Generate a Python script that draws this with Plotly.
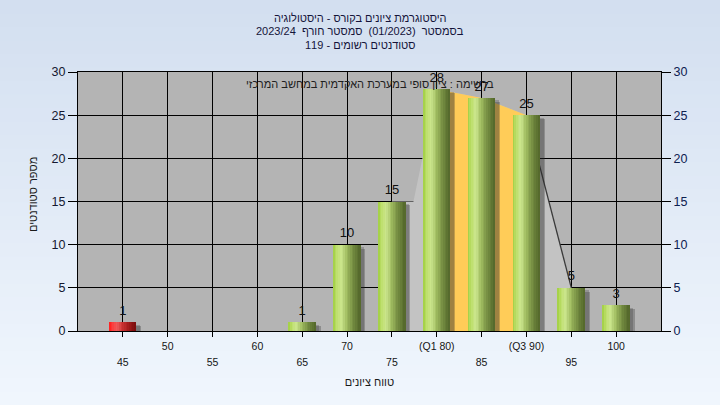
import plotly.graph_objects as go

# ---------------- data ----------------
grades = [45, 50, 55, 60, 65, 70, 75, 80, 85, 90, 95, 100]
counts = [1, 0, 0, 0, 1, 10, 15, 28, 27, 25, 5, 3]
tick_labels = ["45", "50", "55", "60", "65", "70", "75", "(Q1 80)", "85", "(Q3 90)", "95", "100"]
fail_grades = [45]
quartile_grades = [80, 85, 90]          # Q1 .. Q3
envelope_grades = [75, 80, 85, 90, 95]  # distribution envelope drawn behind bars
tail_grades = [90, 95]                  # dark envelope edge

title_lines = [
    "היסטוגרמת ציונים בקורס - היסטולוגיה",
    "בסמסטר  (01/2023)  סמסטר חורף  2023/24",
    "סטודנטים רשומים - 119",
]
note_text = "ברשימה : ציון סופי במערכת האקדמית במחשב המרכזי"
x_title = "טווח ציונים"
y_title = "מספר סטודנטים"

# ---------------- style ----------------
FONT = "Liberation Sans, Arial, DejaVu Sans, sans-serif"
W, H = 720, 405
ML, MR, MT, MB = 78, 59, 72, 74
PH = H - MT - MB
PW = W - ML - MR
BAR_W = 3.0
SHADOW_DX = 0.9
N_SLICES = 16

count_of = dict(zip(grades, counts))


def lerp_stops(stops, t):
    for (t0, c0), (t1, c1) in zip(stops, stops[1:]):
        if t0 <= t <= t1:
            f = (t - t0) / (t1 - t0)
            return "rgb(%d,%d,%d)" % tuple(round(a + (b - a) * f) for a, b in zip(c0, c1))
    return "rgb(%d,%d,%d)" % stops[-1][1]


green_stops = [(0.0, (158, 206, 64)), (0.12, (188, 222, 104)), (0.3, (204, 230, 142)),
               (0.5, (160, 188, 96)), (0.75, (114, 138, 64)), (1.0, (82, 102, 42))]
red_stops = [(0.0, (255, 28, 28)), (0.12, (252, 58, 58)), (0.3, (238, 92, 92)),
             (0.5, (202, 50, 50)), (0.75, (160, 26, 26)), (1.0, (120, 12, 12))]

fig = go.Figure()

# background gradient (paper) + plot area
full_bottom = -MB / PH
full_top = 1 + MT / PH
n_strips = 30
c_top = (211, 223, 240)
c_bot = (240, 246, 253)
for i in range(n_strips):
    f = i / (n_strips - 1)
    col = tuple(round(a + (b - a) * f) for a, b in zip(c_top, c_bot))
    y1 = full_top - (full_top - full_bottom) * i / n_strips
    y0 = full_top - (full_top - full_bottom) * (i + 1) / n_strips
    fig.add_shape(type="rect", xref="paper", yref="paper", x0=-0.2, x1=1.2, y0=y0 - 0.002, y1=y1,
                  fillcolor="rgb(%d,%d,%d)" % col, line_width=0, layer="below")
fig.add_shape(type="rect", xref="paper", yref="paper", x0=0, x1=1, y0=0, y1=1,
              fillcolor="#b4b4b4", line_width=0, layer="below")

# envelope behind bars (main x/y subplot; bars sit on the overlaying x2/y subplot)
env_y = [count_of[g] for g in envelope_grades]
env_x = list(envelope_grades)
left_corner = envelope_grades[0] + BAR_W / 2 + SHADOW_DX   # starts at first bar's shadowed corner
fig.add_trace(go.Scatter(
    x=[env_x[0], env_x[0], left_corner] + env_x[1:] + [env_x[-1]],
    y=[0, env_y[0], env_y[0]] + env_y[1:] + [0], fill="toself", fillcolor="#c3c3c3",
    mode="lines", line=dict(width=0), hoverinfo="skip", showlegend=False))
fig.add_trace(go.Scatter(
    x=quartile_grades, y=[count_of[g] for g in quartile_grades], fill="tozeroy",
    fillcolor="#ffcc58", mode="lines", line=dict(width=0), hoverinfo="skip", showlegend=False))
fig.add_trace(go.Scatter(
    x=tail_grades, y=[count_of[g] for g in tail_grades], mode="lines",
    line=dict(color="#3a3a3a", width=1.3), hoverinfo="skip", showlegend=False))

# shadows
for off, dy, alpha in [(-1.08, 0.28, 0.24), (-0.95, 0.45, 0.28)]:
    fig.add_trace(go.Bar(
        x=grades, y=[(v - dy) if v > 0 else None for v in counts], xaxis="x2",
        offset=off, width=BAR_W, marker=dict(color="rgba(40,40,40,%.2f)" % alpha, line_width=0),
        hoverinfo="skip", showlegend=False))

# bars as vertical gradient slices
sw = BAR_W / N_SLICES
for i in range(N_SLICES):
    t = (i + 0.5) / N_SLICES
    cols = [lerp_stops(red_stops if g in fail_grades else green_stops, t) for g in grades]
    fig.add_trace(go.Bar(
        x=grades, y=counts, xaxis="x2", offset=-BAR_W / 2 + i * sw, width=sw + 0.02,
        marker=dict(color=cols, line_width=0), hoverinfo="skip", showlegend=False))

# value labels
lab_x = [g for g, v in zip(grades, counts) if v > 0]
lab_y = [v for v in counts if v > 0]
fig.add_trace(go.Scatter(
    x=lab_x, y=lab_y, xaxis="x2", mode="markers+text", text=[str(v) for v in lab_y],
    textposition="top center", marker=dict(size=5, color="rgba(0,0,0,0)"),
    textfont=dict(family=FONT, size=13, color="#101010"), cliponaxis=False,
    hoverinfo="skip", showlegend=False))

fig.add_trace(go.Scatter(x=[grades[0]], y=[None], yaxis="y2", showlegend=False, hoverinfo="skip"))

row2 = grades[0::2]
row1 = grades[1::2]
label_of = dict(zip(grades, tick_labels))
fig.update_layout(
    width=W, height=H, margin=dict(l=ML, r=MR, t=MT, b=MB),
    paper_bgcolor="#e3ecf8", plot_bgcolor="rgba(0,0,0,0)",
    barmode="overlay", bargap=0, showlegend=False,
    font=dict(family=FONT, size=11, color="#1a1a2a"),
    xaxis=dict(range=[40, 105], tickvals=grades,
               ticktext=[label_of[g] if g in row1 else "" for g in grades],
               ticks="outside", ticklen=5, tickcolor="black", tickwidth=1,
               showline=True, linecolor="black", linewidth=1, mirror=True,
               showgrid=True, gridcolor="black", gridwidth=1, zeroline=False,
               tickfont=dict(size=10.5, color="#151515"),
               title=dict(text=x_title, font=dict(size=11, color="#1a1a1a"), standoff=27),
               automargin=False),
    xaxis2=dict(overlaying="x", anchor="y", side="bottom", range=[40, 105],
                tickvals=row2, ticktext=[label_of[g] for g in row2], ticks="",
                showgrid=False, showline=False, zeroline=False, ticklabelstandoff=23,
                tickfont=dict(size=10.5, color="#151515"), automargin=False),
    yaxis=dict(range=[0, 30], tickvals=[0, 5, 10, 15, 20, 25, 30], ticks="outside", ticklen=9,
               tickcolor="black", showline=True, linecolor="black", linewidth=1,
               showgrid=True, gridcolor="black", gridwidth=1, zeroline=False,
               tickfont=dict(size=12.5, color="#141830"), automargin=False),
    yaxis2=dict(overlaying="y", side="right", anchor="x", range=[0, 30],
                tickvals=[0, 5, 10, 15, 20, 25, 30], ticks="outside", ticklen=9,
                tickcolor="black", showline=True, linecolor="black", linewidth=1,
                showgrid=False, zeroline=False, tickfont=dict(size=12.5, color="#0d2050"),
                automargin=False),
)

# y axis title (rotated)
fig.add_annotation(text=y_title, xref="paper", yref="paper", x=(33 - ML) / PW,
                   y=(H - MB - 195) / PH, xanchor="center", yanchor="middle", textangle=-90,
                   showarrow=False, font=dict(size=11, color="#1a1a1a"))

# title lines
for txt, py in zip(title_lines, [18, 31.5, 45]):
    fig.add_annotation(text=txt, xref="paper", yref="paper", x=(360 - ML) / PW,
                       y=(H - MB - py) / PH, xanchor="center", yanchor="middle", showarrow=False,
                       font=dict(size=11, color="#14143a"))

fig.add_annotation(text=note_text, xref="paper", yref="paper", x=0.5, y=(H - MB - 84) / PH,
                   xanchor="center", yanchor="middle", showarrow=False,
                   font=dict(size=11, color="#202020"))

fig.write_html("out.html", config={"displayModeBar": False},
               post_script="document.body.style.margin='0';document.body.style.padding='0';")
